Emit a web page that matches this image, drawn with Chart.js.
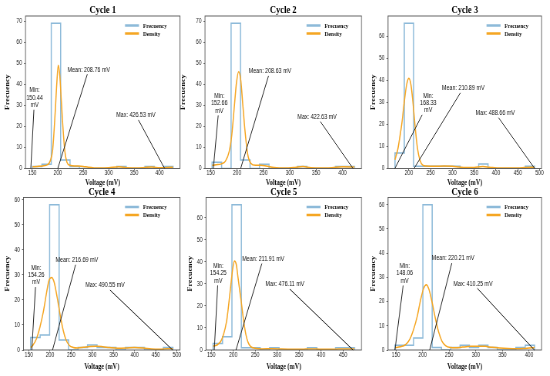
<!DOCTYPE html>
<html>
<head>
<meta charset="utf-8">
<script src="https://cdn.jsdelivr.net/npm/chart.js@4.4.1/dist/chart.umd.min.js"></script>
<style>
  html, body { margin: 0; padding: 0; background: #fff; }
  body { width: 550px; height: 376px; position: relative; overflow: hidden; }
  .cell { position: absolute; transform-origin: 0 0; }
</style>
</head>
<body>
<script>
// Six histogram + density panels. The source figure is squeezed sideways,
// so every panel is drawn wider and then scaled back with scaleX.

const titles = ["Cycle 1", "Cycle 2", "Cycle 3", "Cycle 4", "Cycle 5", "Cycle 6"];
const minV = [150.44, 152.66, 168.33, 154.26, 154.25, 148.06];
const meanV = [208.76, 208.63, 210.89, 216.69, 211.91, 220.21];
const maxV = [426.53, 422.63, 488.66, 490.55, 476.11, 410.25];

// histogram bin edges (15 bins between min and max) and counts
const edges1 = [150.44, 168.85, 187.25, 205.66, 224.06, 242.47, 260.88, 279.28, 297.69, 316.09, 334.50, 352.91, 371.31, 389.72, 408.12, 426.53];
const edges2 = [152.66, 170.66, 188.66, 206.65, 224.65, 242.65, 260.65, 278.64, 296.64, 314.64, 332.64, 350.64, 368.63, 386.63, 404.63, 422.63];
const edges3 = [168.33, 189.69, 211.04, 232.40, 253.75, 275.11, 296.46, 317.82, 339.17, 360.53, 381.88, 403.24, 424.60, 445.95, 467.31, 488.66];
const edges4 = [154.26, 176.68, 199.10, 221.52, 243.94, 266.36, 288.77, 311.19, 333.61, 356.03, 378.45, 400.87, 423.29, 445.71, 468.13, 490.55];
const edges5 = [154.25, 175.71, 197.16, 218.62, 240.08, 261.54, 282.99, 304.45, 325.91, 347.36, 368.82, 390.28, 411.74, 433.19, 454.65, 476.11];
const edges6 = [148.06, 165.54, 183.02, 200.50, 217.98, 235.46, 252.94, 270.42, 287.90, 305.37, 322.85, 340.33, 357.81, 375.29, 392.77, 410.25];

const counts1 = [1, 2, 69, 4, 1, 0, 0, 0, 0, 1, 0, 0, 1, 0, 1];
const counts2 = [3, 0, 69, 4, 0, 2, 0, 0, 0, 1, 0, 0, 0, 1, 1];
const counts3 = [7, 66, 1, 1, 1, 1, 1, 0, 0, 2, 0, 0, 0, 0, 1];
const counts4 = [5, 6, 58, 4, 0, 1, 2, 1, 1, 0, 1, 1, 0, 0, 1];
const counts5 = [3, 6, 66, 1, 1, 0, 1, 0, 0, 0, 1, 0, 0, 1, 1];
const counts6 = [2, 2, 5, 60, 1, 0, 1, 2, 1, 2, 1, 0, 0, 1, 2];

// density curves (already scaled to counts)
const dens1X = [150.4, 160, 170, 180, 185, 190, 195, 198, 201, 204, 207, 210, 214, 218, 224, 235, 250, 260, 280, 300, 320, 335, 355, 375, 385, 400, 415, 426.5];
const dens1Y = [0.8, 1.0, 1.2, 1.8, 3.5, 9, 27, 40, 49, 44, 32, 20, 8, 3, 1.5, 1.2, 1, 0.6, 0.2, 0.3, 0.8, 0.4, 0.2, 0.6, 0.7, 0.3, 0.5, 0.6];
const dens2X = [152.7, 160, 170, 178, 185, 190, 195, 199, 203, 207, 211, 215, 220, 226, 235, 245, 255, 270, 290, 310, 325, 340, 360, 380, 400, 422.6];
const dens2Y = [1.5, 1.8, 2.2, 3.5, 8, 16, 30, 41, 46, 42, 30, 18, 7, 2.5, 1.5, 1.5, 1.2, 0.5, 0.2, 0.5, 0.9, 0.4, 0.2, 0.4, 0.8, 0.7];
const dens3X = [168.3, 175, 180, 185, 190, 195, 200, 205, 210, 215, 220, 226, 232, 240, 260, 280, 300, 315, 330, 350, 370, 385, 410, 440, 465, 480, 488.7];
const dens3Y = [4, 9, 15, 22, 31, 38, 41, 38, 29, 18, 9, 3.5, 1.5, 1.1, 1.0, 1.1, 1.0, 0.7, 0.4, 0.5, 0.9, 0.6, 0.2, 0.2, 0.4, 0.6, 0.6];
const dens4X = [154.3, 160, 168, 176, 184, 192, 198, 204, 210, 217, 224, 231, 238, 246, 255, 265, 280, 295, 310, 325, 340, 360, 380, 400, 420, 440, 460, 478, 490.6];
const dens4Y = [1, 2, 4.5, 9, 15, 23, 28, 29, 27, 21, 14, 8, 4, 1.8, 1, 0.8, 1.1, 1.4, 1.5, 1.3, 1.0, 0.7, 0.8, 1.0, 0.8, 0.4, 0.3, 0.5, 0.5];
const dens5X = [154.3, 165, 172, 178, 185, 190, 195, 199, 203, 207, 211, 215, 219, 224, 229, 234, 240, 250, 265, 290, 310, 340, 365, 380, 400, 430, 450, 476.1];
const dens5Y = [1.7, 2.5, 4, 7, 13, 21, 30, 37, 40.5, 39, 33, 27, 21, 13, 7, 3.5, 1.5, 0.8, 0.5, 0.6, 0.4, 0.3, 0.4, 0.5, 0.3, 0.3, 0.5, 0.5];
const dens6X = [148.1, 158, 168, 176, 183, 190, 196, 202, 207, 212, 218, 224, 230, 236, 243, 252, 262, 275, 290, 305, 318, 330, 345, 360, 375, 390, 400, 410.3];
const dens6Y = [1.0, 1.3, 2.2, 4.5, 8.5, 14, 20.5, 25.5, 27, 25, 19.5, 13, 7.5, 3.8, 1.8, 1.0, 0.9, 1.2, 1.5, 1.6, 1.5, 1.1, 0.8, 0.6, 0.5, 0.6, 0.8, 1.0];

// axis ranges and ticks
const xMin = [136.6, 139.2, 152.3, 137.4, 138.2, 135.0];
const xMax = [440.3, 436.1, 504.7, 507.4, 492.2, 423.4];
const yMax = [72.45, 72.45, 69.3, 60.9, 69.3, 63];
const xTicks = [
  [150, 200, 250, 300, 350, 400],
  [150, 200, 250, 300, 350, 400],
  [200, 250, 300, 350, 400, 450, 500],
  [150, 200, 250, 300, 350, 400, 450, 500],
  [150, 200, 250, 300, 350, 400, 450],
  [150, 200, 250, 300, 350, 400],
];
const yTicks = [
  [0, 10, 20, 30, 40, 50, 60, 70],
  [0, 10, 20, 30, 40, 50, 60, 70],
  [0, 10, 20, 30, 40, 50, 60],
  [0, 10, 20, 30, 40, 50, 60],
  [0, 10, 20, 30, 40, 50, 60],
  [0, 10, 20, 30, 40, 50, 60],
];

// annotation text anchors [voltage, frequency] and where each arrow lands
const minLabelAt = [[154.4, 33.6], [166.3, 30.9], [244.6, 29.8], [167.4, 29.9], [166.2, 34.8], [166.3, 31.6]];
const meanLabelAt = [[260.9, 47], [262.3, 46.2], [325, 36.5], [263.5, 35.9], [268.5, 41.4], [257.1, 37.8]];
const maxLabelAt = [[353.6, 25.3], [351.9, 24.5], [398.5, 25.2], [330.3, 25.8], [317.8, 29.8], [294.7, 27.4]];
const minTip = [147, 155, 168, 157, 157, 148];
const meanTip = [200, 206.8, 212, 206, 206.4, 213.3];
const maxTip = [410, 420, 489, 490, 473, 410];

const edges = [edges1, edges2, edges3, edges4, edges5, edges6];
const counts = [counts1, counts2, counts3, counts4, counts5, counts6];
const densX = [dens1X, dens2X, dens3X, dens4X, dens5X, dens6X];
const densY = [dens1Y, dens2Y, dens3Y, dens4Y, dens5Y, dens6Y];

// page layout: canvas box, plot area and y-label centre, all in page px
const cells = [
  { x: 0,   y: 0,   w: 184, h: 192, L: 25.5, R: 180,   T: 16,    B: 168.5, ylab: 7.3 },
  { x: 178, y: 0,   w: 188, h: 192, L: 205,  R: 361.5, T: 16,    B: 168.5, ylab: 183.3 },
  { x: 358, y: 0,   w: 192, h: 192, L: 388,  R: 541.5, T: 16,    B: 168.5, ylab: 373.3 },
  { x: 0,   y: 184, w: 184, h: 192, L: 23.5, R: 180,   T: 197.5, B: 350,   ylab: 7.3 },
  { x: 178, y: 184, w: 188, h: 192, L: 206,  R: 361.5, T: 197.5, B: 350,   ylab: 190 },
  { x: 358, y: 184, w: 192, h: 192, L: 388,  R: 541.5, T: 197.5, B: 350,   ylab: 373.3 },
];

const SQUEEZE = 0.77;
const SERIF = '"Liberation Serif", "Times New Roman", serif';
const SANS = '"Liberation Sans", Arial, sans-serif';
const HIST_COLOR = "#8dbad9";
const DENS_COLOR = "#f5a623";

function stepPoints(e, c) {
  const pts = [{ x: e[0], y: 0 }];
  c.forEach((v, i) => pts.push({ x: e[i], y: v }));
  pts.push({ x: e[e.length - 1], y: c[c.length - 1] });
  pts.push({ x: e[e.length - 1], y: 0 });
  return pts;
}

const decor = {
  id: "decor",
  afterDatasetsDraw(chart, args, opts) {
    const { ctx, chartArea: a, scales: { x, y } } = chart;
    const k = opts.k;
    ctx.save();
    ctx.strokeStyle = "#555";
    ctx.lineWidth = 0.9;
    ctx.strokeRect(a.left, a.top, a.right - a.left, a.bottom - a.top);

    // annotations with a plain line from the text box to the point
    ctx.font = "7px " + SANS;
    ctx.fillStyle = "#111";
    ctx.textAlign = "center";
    ctx.textBaseline = "middle";
    ctx.strokeStyle = "#222";
    ctx.lineWidth = 1;
    const lh = 7.3;
    opts.notes.forEach((n) => {
      const lines = n.text.split("\n");
      const cx = x.getPixelForValue(n.at[0]);
      const cy = y.getPixelForValue(n.at[1]);
      lines.forEach((t, j) => ctx.fillText(t, cx, cy + (j - (lines.length - 1) / 2) * lh));
      const hw = Math.max(...lines.map((t) => ctx.measureText(t).width)) / 2 + 1.5;
      const hh = (lines.length * lh) / 2 + 1;
      const px = x.getPixelForValue(n.tip);
      const py = y.getPixelForValue(0);
      const dx = px - cx, dy = py - cy;
      const t0 = Math.min(hw / Math.max(Math.abs(dx), 1e-6), hh / Math.max(Math.abs(dy), 1e-6));
      ctx.beginPath();
      ctx.moveTo(cx + dx * t0, cy + dy * t0);
      ctx.lineTo(px, py);
      ctx.stroke();
    });

    // legend, upper right inside the axes
    const rows = [["Frecuency", HIST_COLOR], ["Density", DENS_COLOR]];
    ctx.font = "bold 7px " + SERIF;
    ctx.textAlign = "left";
    rows.forEach(([label, color], j) => {
      const ly = a.top + 9.5 + j * 8;
      ctx.strokeStyle = color;
      ctx.lineWidth = 2.5;
      ctx.beginPath();
      ctx.moveTo(a.right - 55 / k, ly);
      ctx.lineTo(a.right - 41 / k, ly);
      ctx.stroke();
      ctx.fillStyle = "#111";
      ctx.fillText(label, a.right - 37 / k, ly + 0.5);
    });
    ctx.restore();
  },
};

cells.forEach((c, i) => {
  const inner = Math.round(c.w / SQUEEZE);
  const k = c.w / inner; // page px per canvas px, horizontally

  const div = document.createElement("div");
  div.className = "cell";
  div.style.left = c.x + "px";
  div.style.top = c.y + "px";
  div.style.width = inner + "px";
  div.style.height = c.h + "px";
  div.style.transform = `scaleX(${k})`;
  const cv = document.createElement("canvas");
  cv.width = inner;
  cv.height = c.h;
  div.appendChild(cv);
  document.body.appendChild(div);

  const notes = [
    { text: `Min:\n${minV[i].toFixed(2)}\nmV`, at: minLabelAt[i], tip: minTip[i] },
    { text: `Mean: ${meanV[i].toFixed(2)} mV`, at: meanLabelAt[i], tip: meanTip[i] },
    { text: `Max: ${maxV[i].toFixed(2)} mV`, at: maxLabelAt[i], tip: maxTip[i] },
  ];

  new Chart(cv, {
    type: "line",
    data: {
      datasets: [
        {
          label: "Density",
          data: densX[i].map((v, j) => ({ x: v, y: densY[i][j] })),
          borderColor: DENS_COLOR,
          borderWidth: 1.5,
          pointRadius: 0,
          cubicInterpolationMode: "monotone",
          fill: false,
          order: 0,
        },
        {
          label: "Frecuency",
          data: stepPoints(edges[i], counts[i]),
          borderColor: HIST_COLOR,
          borderWidth: 1.5,
          pointRadius: 0,
          stepped: true,
          fill: false,
          order: 1,
        },
      ],
    },
    options: {
      responsive: false,
      animation: false,
      events: [],
      layout: { padding: { left: 0, top: 0, bottom: 0, right: (c.x + c.w - c.R) / k } },
      plugins: {
        legend: { display: false },
        tooltip: { enabled: false },
        title: {
          display: true,
          text: titles[i],
          fullSize: false,
          color: "#000",
          font: { family: SERIF, size: 11, weight: "bold", lineHeight: 1 },
          padding: { top: c.T - c.y - 11, bottom: 0 },
        },
        decor: { notes, k },
      },
      scales: {
        x: {
          type: "linear",
          min: xMin[i],
          max: xMax[i],
          afterBuildTicks: (s) => { s.ticks = xTicks[i].map((v) => ({ value: v })); },
          afterFit: (s) => { s.height = c.y + c.h - c.B; },
          grid: { drawOnChartArea: false, tickLength: 1.5, color: "#444", lineWidth: 0.8 },
          border: { display: false },
          ticks: {
            font: { family: SANS, size: 6.5, lineHeight: 1 },
            color: "#222", padding: 0, maxRotation: 0, minRotation: 0, autoSkip: false,
          },
          title: {
            display: true,
            text: "Voltage (mV)",
            color: "#111",
            font: { family: SERIF, size: 8, weight: "bold", lineHeight: 1 },
            padding: { top: 0, bottom: 5.3 },
          },
        },
        y: {
          min: 0,
          max: yMax[i],
          afterBuildTicks: (s) => { s.ticks = yTicks[i].map((v) => ({ value: v })); },
          afterFit: (s) => { s.width = (c.L - c.x) / k; },
          grid: { drawOnChartArea: false, tickLength: 1.5 / k, color: "#444", lineWidth: 0.8 },
          border: { display: false },
          ticks: { font: { family: SANS, size: 6.5, lineHeight: 1 }, color: "#222", padding: 2 / k },
          title: {
            display: true,
            text: "Frecuency",
            color: "#111",
            font: { family: SERIF, size: 8, weight: "bold", lineHeight: 1 },
            padding: { top: (c.ylab - c.x) / k - 4, bottom: 0 },
          },
        },
      },
    },
    plugins: [decor],
  });
});
</script>
</body>
</html>
